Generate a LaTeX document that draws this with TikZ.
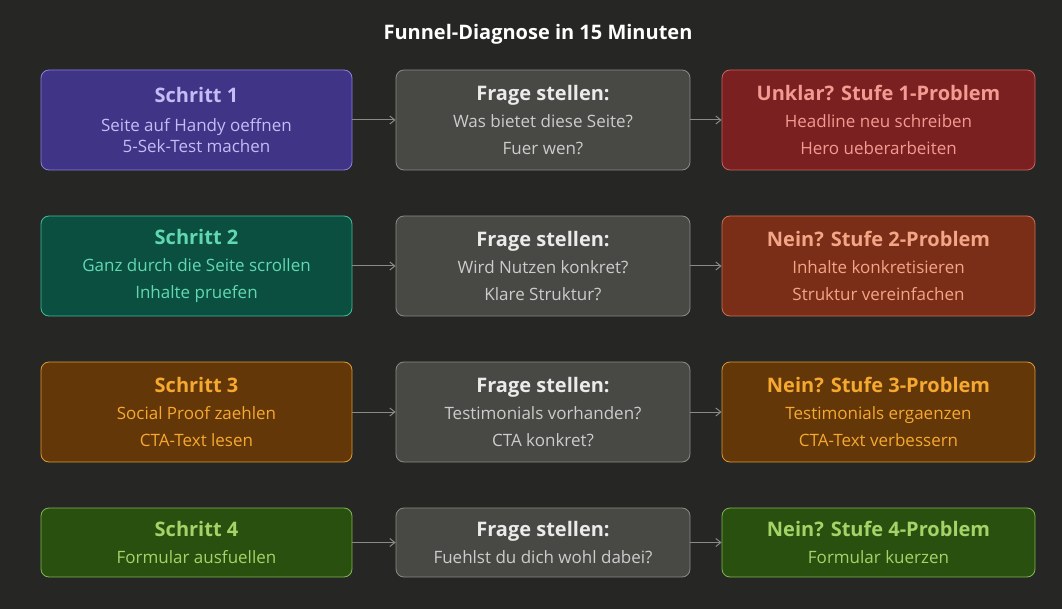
\documentclass[tikz,border=0pt]{standalone}
\usepackage{fontspec}
\setmainfont{Open Sans}
\usetikzlibrary{positioning,arrows.meta}
\definecolor{bg}{HTML}{262624}
\definecolor{midfill}{HTML}{484845}
\definecolor{midline}{HTML}{8A8A86}
\definecolor{bluefill}{HTML}{3F3486}
\definecolor{blueline}{HTML}{8A7FE0}
\definecolor{bluetext}{HTML}{C4BCF5}
\definecolor{greenfill}{HTML}{0B4F40}
\definecolor{greenline}{HTML}{3FBF98}
\definecolor{greentext}{HTML}{62D8B2}
\definecolor{orangefill}{HTML}{633708}
\definecolor{orangeline}{HTML}{E09A30}
\definecolor{orangetext}{HTML}{F6A930}
\definecolor{limefill}{HTML}{2A5010}
\definecolor{limeline}{HTML}{80B850}
\definecolor{limetext}{HTML}{A4D468}
\definecolor{redfill}{HTML}{7A2020}
\definecolor{redline}{HTML}{D06060}
\definecolor{redtext}{HTML}{F39A92}
\definecolor{rustfill}{HTML}{7A2E18}
\definecolor{rustline}{HTML}{D07050}
\definecolor{rusttext}{HTML}{F3A586}
\newcommand{\hdtext}[1]{{\fontsize{20}{24}\selectfont\bfseries #1}}

\begin{document}
\begin{tikzpicture}[x=1pt,y=-1pt,
  box/.style={rounded corners=8pt,line width=0.8pt,align=center,
    font=\fontsize{17}{27}\selectfont,inner sep=0pt},
  stepbox/.style={box,minimum width=311pt},
  askbox/.style={box,minimum width=294pt,fill=midfill,draw=midline,text=black!20!white},
  fixbox/.style={box,minimum width=313pt},
  tall/.style={minimum height=100pt},
  short/.style={minimum height=69pt},
  link/.style={-{Straight Barb[length=5pt,width=8pt]},line width=1pt,draw=midline}]
\fill[bg] (0,0) rectangle (1062,609);
\useasboundingbox (0,0) rectangle (1062,609);

\node[font=\fontsize{20}{24}\selectfont\bfseries,text=white] (title) at (538,34) {Funnel-Diagnose in 15 Minuten};

% row 1
\node[stepbox,tall,fill=bluefill,draw=blueline,text=bluetext] (s1) at (196.5,120)
  {\hdtext{Schritt 1}\\[2pt] Seite auf Handy oeffnen\\[-6pt] 5-Sek-Test machen};
\node[askbox,tall] (q1) at (543,120)
  {\hdtext{\color{white!92!black}Frage stellen:}\\ Was bietet diese Seite?\\ Fuer wen?};
\node[fixbox,tall,fill=redfill,draw=redline,text=redtext] (p1) at (878.5,120)
  {\hdtext{Unklar? Stufe 1-Problem}\\ Headline neu schreiben\\ Hero ueberarbeiten};

% row 2
\node[stepbox,tall,fill=greenfill,draw=greenline,text=greentext] (s2) at (196.5,266)
  {\hdtext{Schritt 2}\\ Ganz durch die Seite scrollen\\ Inhalte pruefen};
\node[askbox,tall] (q2) at (543,266)
  {\hdtext{\color{white!92!black}Frage stellen:}\\ Wird Nutzen konkret?\\ Klare Struktur?};
\node[fixbox,tall,fill=rustfill,draw=rustline,text=rusttext] (p2) at (878.5,266)
  {\hdtext{Nein? Stufe 2-Problem}\\ Inhalte konkretisieren\\ Struktur vereinfachen};

% row 3
\node[stepbox,tall,fill=orangefill,draw=orangeline,text=orangetext] (s3) at (196.5,412)
  {\hdtext{Schritt 3}\\ Social Proof zaehlen\\ CTA-Text lesen};
\node[askbox,tall] (q3) at (543,412)
  {\hdtext{\color{white!92!black}Frage stellen:}\\ Testimonials vorhanden?\\ CTA konkret?};
\node[fixbox,tall,fill=orangefill,draw=orangeline,text=orangetext] (p3) at (878.5,412)
  {\hdtext{Nein? Stufe 3-Problem}\\ Testimonials ergaenzen\\ CTA-Text verbessern};

% row 4
\node[stepbox,short,fill=limefill,draw=limeline,text=limetext] (s4) at (196.5,542.5)
  {\hdtext{Schritt 4}\\ Formular ausfuellen};
\node[askbox,short] (q4) at (543,542.5)
  {\hdtext{\color{white!92!black}Frage stellen:}\\ Fuehlst du dich wohl dabei?};
\node[fixbox,short,fill=limefill,draw=limeline,text=limetext] (p4) at (878.5,542.5)
  {\hdtext{Nein? Stufe 4-Problem}\\ Formular kuerzen};

\foreach \r in {1,2,3,4}{
  \draw[link] (s\r) -- (q\r);
  \draw[link] (q\r) -- (p\r);
}
\end{tikzpicture}
\end{document}
